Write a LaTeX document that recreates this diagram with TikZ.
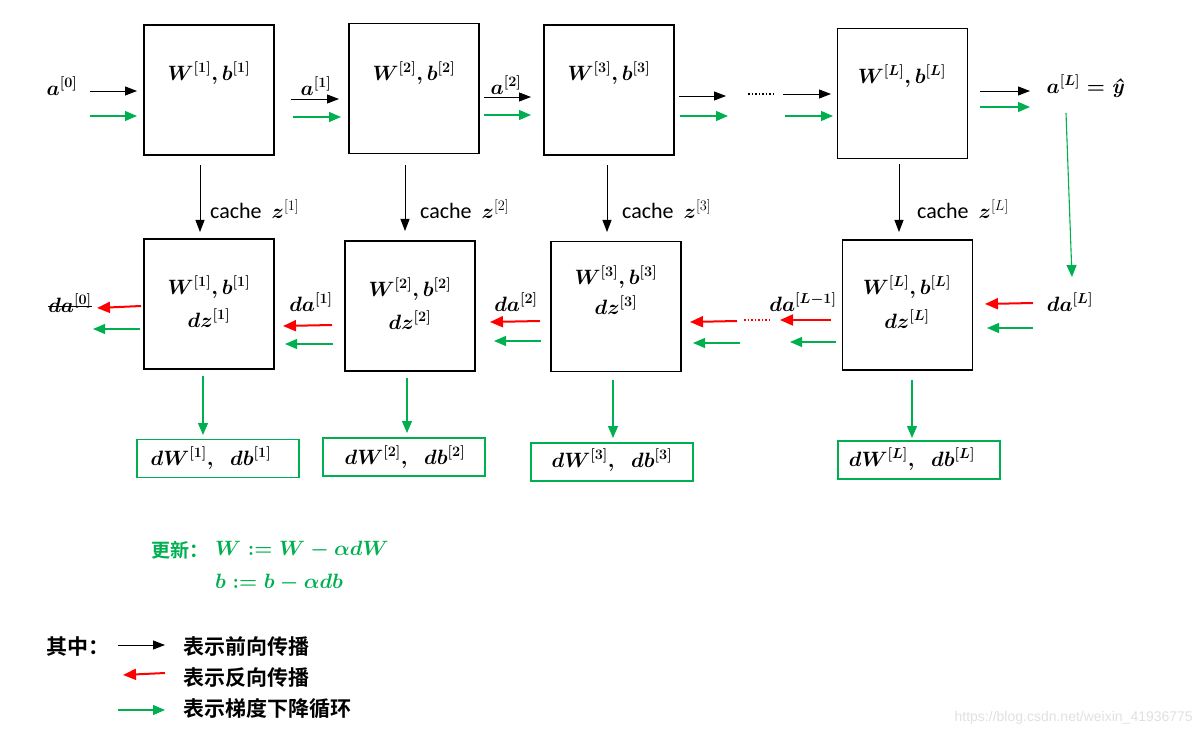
\documentclass[tikz,border=0pt]{standalone}
\usepackage{fontspec}
\usepackage{amsmath,bm}
\setsansfont{Carlito}
\newfontfamily\cjk{Noto Sans CJK SC}[BoldFont={Noto Sans CJK SC Bold}]
\newfontfamily\wmfont{Liberation Sans}
\usetikzlibrary{arrows.meta,calc}
\definecolor{G}{RGB}{0,176,80}
\definecolor{R}{RGB}{255,0,0}
\begin{document}
\begin{tikzpicture}[x=1pt,y=-1pt,
  box/.style={draw,line width=1.8pt,minimum width=130pt,minimum height=130pt,inner sep=0pt},
  gbox/.style={draw=G,line width=1.6pt,minimum width=162pt,minimum height=38pt,inner sep=0pt},
  mt/.style={font=\fontsize{21}{25}\selectfont\boldmath,inner sep=0pt},
  fw/.style={line width=0.9pt,-{Triangle[length=12pt,width=9pt]}},
  bw/.style={R,line width=2pt,-{Triangle[length=13pt,width=11pt]}},
  gd/.style={G,line width=1.1pt,-{Triangle[length=12pt,width=10pt]}},
  cachelbl/.style={font=\sffamily\fontsize{22}{26}\selectfont,inner sep=0pt,anchor=west},
  cjkt/.style={font=\cjk\bfseries\fontsize{21}{25}\selectfont,inner sep=0pt,anchor=west},
]
\useasboundingbox (0,0) rectangle (1203,738);

% boxes
\node[box] (t1) at (209,90) {};
\node[box] (t2) at (414,88.5) {};
\node[box] (t3) at (609,90) {};
\node[box] (t4) at (902.5,93.5) {};
\node[box] (b1) at (209,304) {};
\node[box] (b2) at (410,306) {};
\node[box] (b3) at (616,306.5) {};
\node[box] (b4) at (907.5,305) {};
\node[gbox] (g1) at (218,458.5) {};
\node[gbox] (g2) at (404,457) {};
\node[gbox] (g3) at (612,462) {};
\node[gbox] (g4) at (919,460) {};

% box texts
\node[mt] (t1w) at (209,73) {$W^{[1]}, b^{[1]}$};
\node[mt] (t2w) at (414,73) {$W^{[2]}, b^{[2]}$};
\node[mt] (t3w) at (609,73) {$W^{[3]}, b^{[3]}$};
\node[mt] (t4w) at (902,76) {$W^{[L]}, b^{[L]}$};
\node[mt] (b1w) at (209,287) {$W^{[1]}, b^{[1]}$};
\node[mt] (b1z) at (209,318) {$dz^{[1]}$};
\node[mt] (b2w) at (410,289) {$W^{[2]}, b^{[2]}$};
\node[mt] (b2z) at (410,320) {$dz^{[2]}$};
\node[mt] (b3w) at (616,277) {$W^{[3]}, b^{[3]}$};
\node[mt] (b3z) at (616,305) {$dz^{[3]}$};
\node[mt] (b4w) at (907,287) {$W^{[L]}, b^{[L]}$};
\node[mt] (b4z) at (907,319) {$dz^{[L]}$};
\node[mt] (g1t) at (211,458) {$dW^{[1]},\ \ db^{[1]}$};
\node[mt] (g2t) at (405,457) {$dW^{[2]},\ \ db^{[2]}$};
\node[mt] (g3t) at (612,460) {$dW^{[3]},\ \ db^{[3]}$};
\node[mt] (g4t) at (912,459) {$dW^{[L]},\ \ db^{[L]}$};

% forward labels and arrows
\node[mt] (a0) at (62,86) {$a^{[0]}$};
\node[mt] (a1) at (316,86) {$a^{[1]}$};
\node[mt] (a2) at (506,85) {$a^{[2]}$};
\node[mt] (aL) at (1085,86) {$a^{[L]}=\text{\bfseries\itshape ŷ}$};
\draw[fw] (90,91) -- (137,91);
\draw[gd] (90,116) -- (137,116);
\draw[fw] (291,99) -- (339,99);
\draw[gd] (293,117) -- (341,117);
\draw[fw] (484,97) -- (531,97);
\draw[gd] (484,115) -- (531,115);
\draw[fw] (679,96) -- (726,96);
\draw[gd] (680,116) -- (728,116);
\draw[line width=1.3pt,dash pattern=on 1.5pt off 2pt] (748,94) -- (775,94);
\draw[fw] (783,94) -- (831,94);
\draw[gd] (785,116) -- (833,116);
\draw[fw] (980,91) -- (1030,91);
\draw[gd] (980,107) -- (1030,107);
\draw[gd] (1066,113) -- (1072,277);

% cache arrows
\draw[fw] (200,165) -- (200,232);
\node[cachelbl] at (210,209) {cache\ \ $\boldsymbol{z}^{[1]}$};
\draw[fw] (405,165) -- (405,231);
\node[cachelbl] at (420,209) {cache\ \ $\boldsymbol{z}^{[2]}$};
\draw[fw] (607,165) -- (607,232);
\node[cachelbl] at (622,209) {cache\ \ $\boldsymbol{z}^{[3]}$};
\draw[fw] (899,164) -- (899,232);
\node[cachelbl] at (917,209) {cache\ \ $\boldsymbol{z}^{[L]}$};

% backward labels and arrows
\node[mt] (da0) at (70,303) {$da^{[0]}$};
\draw[line width=1pt] ($(da0.west)+(0,4)$) -- ($(da0.east)+(0,4)$);
\node[mt] (da1) at (311,302) {$da^{[1]}$};
\node[mt] (da2) at (516,302) {$da^{[2]}$};
\node[mt] (daL1) at (803,302) {$da^{[L-1]}$};
\node[mt] (daL) at (1070,302) {$da^{[L]}$};
\draw[bw] (141,306) -- (97,308);
\draw[gd] (140,329) -- (93,329);
\draw[bw] (332,325) -- (283,326);
\draw[gd] (333,344) -- (285,344);
\draw[bw] (540,321) -- (490,322);
\draw[gd] (541,341) -- (494,341);
\draw[bw] (737,321) -- (690,322);
\draw[R,line width=1.6pt,dash pattern=on 1.5pt off 2pt] (744,320) -- (771,320);
\draw[bw] (831,320) -- (780,320);
\draw[gd] (740,343) -- (693,343);
\draw[gd] (836,342) -- (790,342);
\draw[bw] (1033,303) -- (985,304);
\draw[gd] (1033,328) -- (987,328);

% gradient arrows
\draw[gd] (203,376) -- (203,435);
\draw[gd] (407,378) -- (407,433);
\draw[gd] (613,380) -- (613,438);
\draw[gd] (912,380) -- (912,438);

% update
\node[cjkt,text=G,font=\cjk\bfseries\fontsize{19}{23}\selectfont] (upd) at (151,550) {更新：};
\node[mt,text=G,anchor=west] (updW) at (215,550) {$W := W - \alpha dW$};
\node[mt,text=G,anchor=west] (updb) at (215,583) {$b := b - \alpha db$};

% legend
\node[cjkt] (lg0) at (46,647) {其中：};
\draw[fw] (118,645) -- (165,645);
\node[cjkt] (lg1) at (183,647) {表示前向传播};
\draw[bw] (165,673) -- (123,675);
\node[cjkt] (lg2) at (183,678) {表示反向传播};
\draw[gd] (118,710) -- (165,710);
\node[cjkt] (lg3) at (183,709) {表示梯度下降循环};

\node[font=\wmfont\fontsize{14}{16}\selectfont,text=black!12,anchor=east,inner sep=0pt] (wm) at (1193,718) {https://blog.csdn.net/weixin\_41936775};
\end{tikzpicture}
\end{document}
